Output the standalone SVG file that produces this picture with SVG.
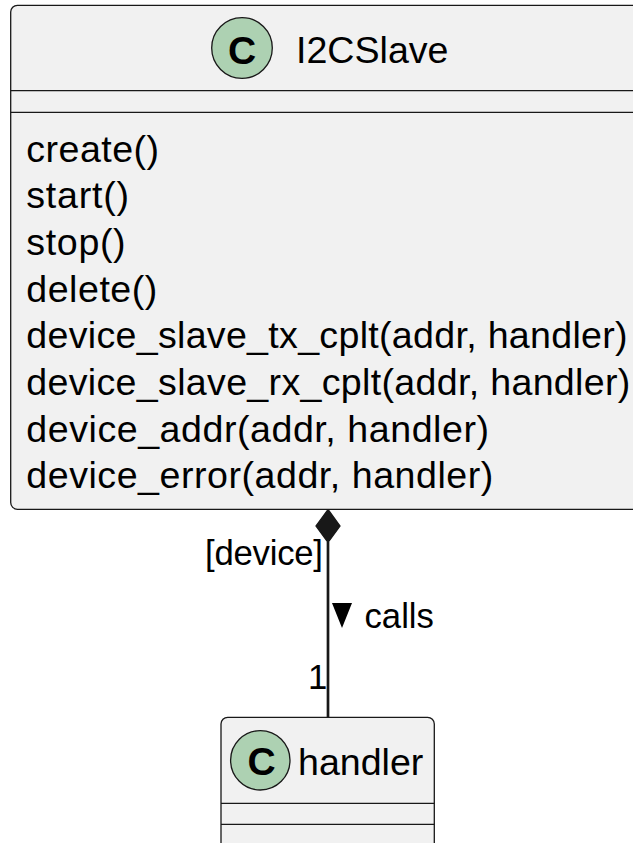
<svg xmlns="http://www.w3.org/2000/svg" width="633" height="843" viewBox="0 0 633 843">
<style>
.box{fill:#F1F1F1;stroke:#181818;stroke-width:1.3}
.div{stroke:#181818;stroke-width:1.3}
.spot{fill:#ADD1B2;stroke:#181818;stroke-width:1.3}
.spotC{font-family:"Liberation Sans",Arial,sans-serif;font-weight:bold;font-size:39px;fill:#000;text-anchor:middle}
.name{font-family:"Liberation Sans",Arial,sans-serif;font-size:37.6px;fill:#000}
.lbl{font-family:"Liberation Sans",Arial,sans-serif;font-size:34.7px;fill:#000}
</style>
<rect width="633" height="843" fill="#FFFFFF"/>
<g id="connectors">
<line x1="328" y1="542" x2="328" y2="717.3" stroke="#181818" stroke-width="2.7"/>
<polygon points="328,509.5 340,526 328,542.5 316,526" fill="#181818" stroke="#181818" stroke-width="1.3"/>
<text class="lbl" x="205" y="565" textLength="118">[device]</text>
<polygon points="332,603 352,603 342,628" fill="#000"/>
<text class="lbl" x="364.5" y="628">calls</text>
<text class="lbl" x="308" y="688.5">1</text>
</g>
<g id="I2CSlave">
<rect class="box" x="10.7" y="5.3" width="660" height="504" rx="6.7" ry="6.7"/>
<circle class="spot" cx="242" cy="48" r="30.3"/>
<text class="spotC" x="242" y="64">C</text>
<text class="name" x="296" y="63.3">I2CSlave</text>
<line class="div" x1="10.7" y1="90.7" x2="640" y2="90.7"/>
<line class="div" x1="10.7" y1="112.3" x2="640" y2="112.3"/>
<text class="name" x="26.3" y="161.6" textLength="132.7">create()</text>
<text class="name" x="26.3" y="208.3" textLength="102.7">start()</text>
<text class="name" x="26.3" y="255" textLength="99.3">stop()</text>
<text class="name" x="26.3" y="301.7" textLength="131">delete()</text>
<text class="name" x="26.3" y="348.3" textLength="601.3">device_slave_tx_cplt(addr, handler)</text>
<text class="name" x="26.3" y="395" textLength="604">device_slave_rx_cplt(addr, handler)</text>
<text class="name" x="26.3" y="441.7" textLength="462.7">device_addr(addr, handler)</text>
<text class="name" x="26.3" y="488.3" textLength="467">device_error(addr, handler)</text>
</g>
<g id="handler">
<rect class="box" x="221" y="717.3" width="213.3" height="150" rx="6.7" ry="6.7"/>
<circle class="spot" cx="260.3" cy="760.3" r="29.7"/>
<text class="spotC" x="261.5" y="775">C</text>
<text class="name" x="298" y="775">handler</text>
<line class="div" x1="221" y1="803.3" x2="434.3" y2="803.3"/>
<line class="div" x1="221" y1="824.3" x2="434.3" y2="824.3"/>
</g>
</svg>
